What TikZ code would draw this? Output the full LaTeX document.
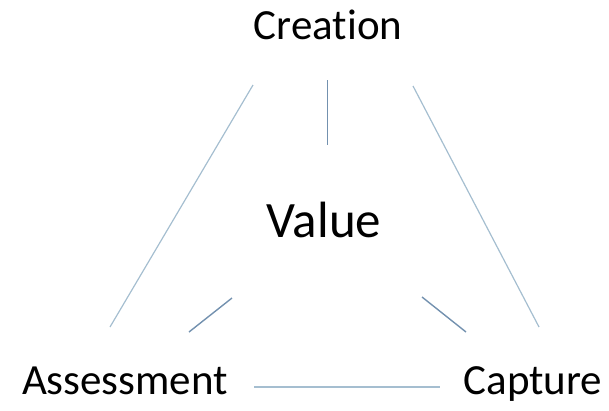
\documentclass[tikz,border=0pt]{standalone}
\usepackage{fontspec}
\setmainfont{Carlito}[Ligatures={NoCommon}]
\begin{document}
\begin{tikzpicture}[x=1pt,y=-1pt,
  lbl/.style={anchor=base,inner sep=0pt,font=\fontsize{43}{48}\selectfont},
  big/.style={anchor=base,inner sep=0pt,font=\fontsize{51}{56}\selectfont},
  longln/.style={draw={rgb,255:red,165;green,190;blue,208},line width=1.2pt},
  shortln/.style={draw={rgb,255:red,115;green,145;blue,175},line width=1.4pt}]
\useasboundingbox (0,0) rectangle (609,410);
\node[lbl] (creation) at (328,39) {Creation};
\node[big] (value) at (324,237) {Value};
\node[lbl] (assess) at (125,394) {Assessment};
\node[lbl] (capture) at (533,394) {Capture};
% connector end points
\coordinate (cl) at (253,85);
\coordinate (al) at (110,327);
\coordinate (cr) at (413,86);
\coordinate (pr) at (539,327);
\coordinate (cv1) at (327.5,80);
\coordinate (cv2) at (327.5,145);
\coordinate (va1) at (232,298);
\coordinate (va2) at (189,332);
\coordinate (vc1) at (422,297);
\coordinate (vc2) at (466,332);
\coordinate (ac1) at (254,387);
\coordinate (ac2) at (440,387);
\draw[longln] (cl) -- (al);
\draw[longln] (cr) -- (pr);
\draw[shortln] (cv1) -- (cv2);
\draw[shortln] (va1) -- (va2);
\draw[shortln] (vc1) -- (vc2);
\draw[longln] (ac1) -- (ac2);
\end{tikzpicture}
\end{document}
